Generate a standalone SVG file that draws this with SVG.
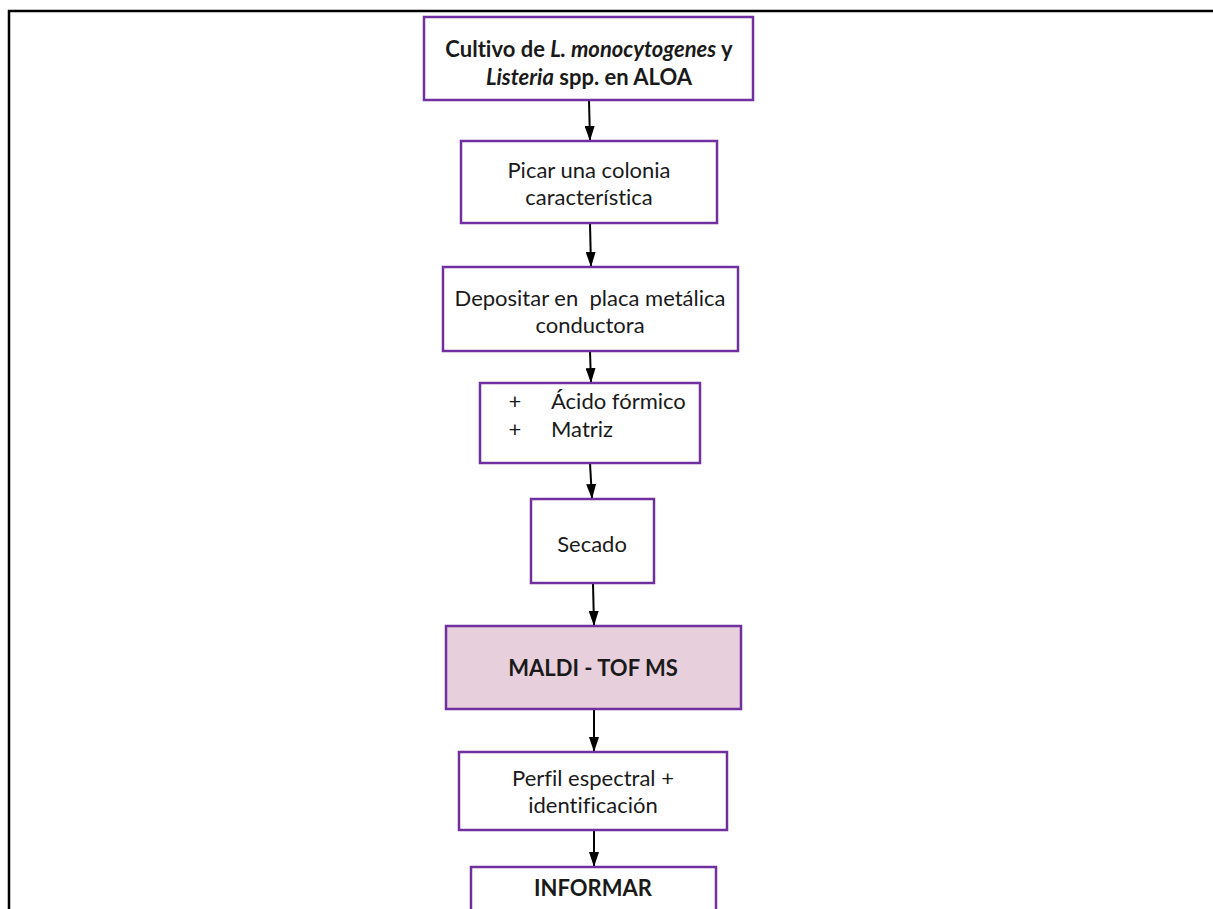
<svg xmlns="http://www.w3.org/2000/svg" width="1213" height="909" viewBox="0 0 1213 909">
<style>
.box{fill:#ffffff;stroke:#7030a0;stroke-width:2.5}
.hl{fill:#e8cfdc}
.t{font-family:Lato,"Open Sans","Liberation Sans",sans-serif;font-size:22px;fill:#1a1a1a;text-anchor:middle;font-variant-ligatures:none;white-space:pre}
.s{text-anchor:start}
.b{font-weight:bold}
.conn line{stroke:#000;stroke-width:2}
</style>
<defs>
<marker id="arr" viewBox="0 0 15 10" refX="15" refY="5" markerWidth="15" markerHeight="10" markerUnits="userSpaceOnUse" orient="auto">
<path d="M0,0 L15,5 L0,10 Z" fill="#000"/>
</marker>
</defs>
<rect width="1213" height="909" fill="#fff"/>
<path d="M9,909 V11 H1213" fill="none" stroke="#000" stroke-width="2.5"/>
<g class="conn">
<line x1="589" y1="100" x2="590" y2="141" marker-end="url(#arr)"/>
<line x1="590" y1="223" x2="591" y2="267" marker-end="url(#arr)"/>
<line x1="590" y1="351" x2="591" y2="383" marker-end="url(#arr)"/>
<line x1="590" y1="463" x2="592" y2="499" marker-end="url(#arr)"/>
<line x1="593" y1="583" x2="594" y2="626" marker-end="url(#arr)"/>
<line x1="594" y1="709" x2="594" y2="752" marker-end="url(#arr)"/>
<line x1="594" y1="830" x2="594" y2="867" marker-end="url(#arr)"/>
</g>
<g id="n1">
<rect class="box" x="424" y="17" width="329" height="83"/>
<text class="t b" x="589" y="57">Cultivo de <tspan font-style="italic">L. monocytogenes</tspan> y</text>
<text class="t b" x="589" y="85"><tspan font-style="italic">Listeria</tspan> spp. en ALOA</text>
</g>
<g id="n2">
<rect class="box" x="461" y="141" width="256" height="82"/>
<text class="t" x="589" y="178">Picar una colonia</text>
<text class="t" x="589" y="205">característica</text>
</g>
<g id="n3">
<rect class="box" x="443" y="267" width="295" height="84"/>
<text class="t" x="590" y="306" xml:space="preserve">Depositar en  placa metálica</text>
<text class="t" x="590" y="333">conductora</text>
</g>
<g id="n4">
<rect class="box" x="480" y="383" width="220" height="80"/>
<text class="t" x="515" y="409">+</text>
<text class="t" x="515" y="437">+</text>
<text class="t s" x="551" y="409">Ácido fórmico</text>
<text class="t s" x="551" y="437">Matriz</text>
</g>
<g id="n5">
<rect class="box" x="531" y="499" width="123" height="84"/>
<text class="t" x="592" y="552">Secado</text>
</g>
<g id="n6">
<rect class="box hl" x="446" y="626" width="295" height="83"/>
<text class="t b" x="593" y="676">MALDI - TOF MS</text>
</g>
<g id="n7">
<rect class="box" x="459" y="752" width="268" height="78"/>
<text class="t" x="593" y="786">Perfil espectral +</text>
<text class="t" x="593" y="813">identificación</text>
</g>
<g id="n8">
<rect class="box" x="471" y="867" width="245" height="50"/>
<text class="t b" x="593" y="896">INFORMAR</text>
</g>
</svg>
